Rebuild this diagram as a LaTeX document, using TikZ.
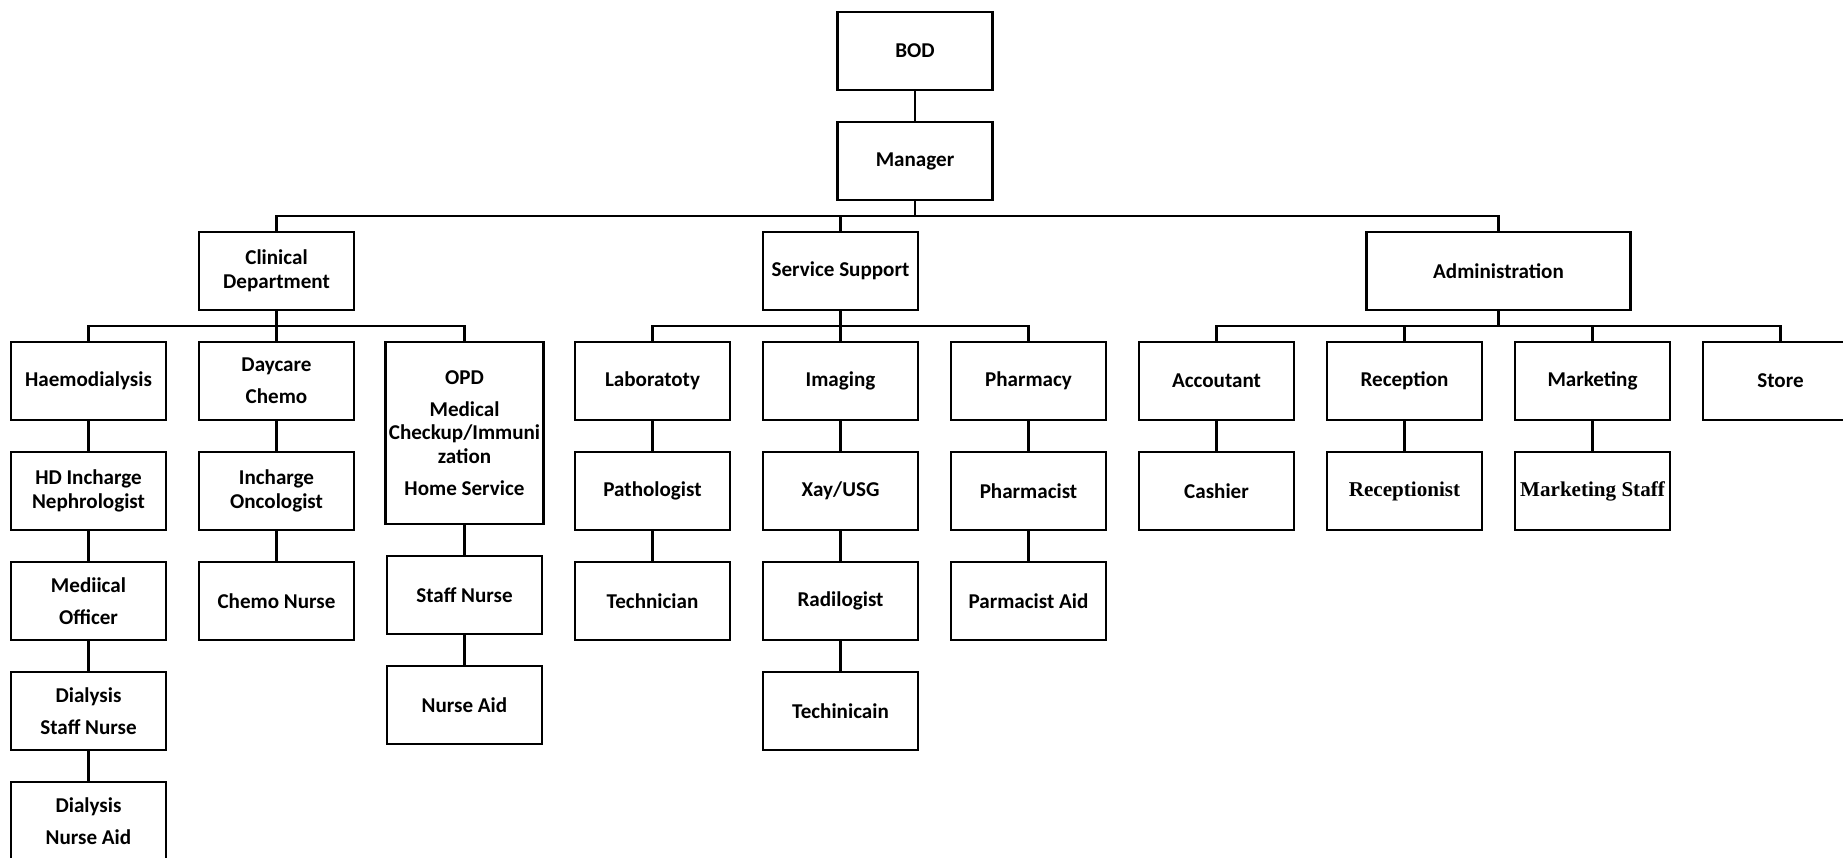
\documentclass[tikz,border=0pt]{standalone}
\usepackage{fontspec}
\setmainfont{Carlito}
\newfontfamily\tnr{Liberation Serif}
\usepackage{tikz}
\tikzset{
  bx/.style={draw,line width=1.6pt,minimum width=3.1cm,minimum height=1.56cm,inner sep=1pt,align=center,
    font={\fontsize{12}{13.5}\selectfont\bfseries}},
  ln/.style={line width=1.4pt}
}

\begin{document}
\begin{tikzpicture}
\useasboundingbox (0,0) rectangle (36.86,-17.14);
\clip (0,0) rectangle (36.86,-17.14);
\coordinate (bus1) at (0,-4.32);
\coordinate (bus2) at (0,-6.52);
\node[bx] (bod) at (18.30,-1.02) {BOD};
\node[bx] (mgr) at (18.30,-3.22) {Manager};
\node[bx] (clin) at (5.53,-5.42) {Clinical\\Department};
\node[bx] (svc) at (16.81,-5.42) {Service Support};
\node[bx,minimum width=5.28cm] (adm) at (29.97,-5.42) {Administration};
% clinical
\node[bx] (hd) at (1.77,-7.62) {Haemodialysis};
\node[bx] (hdin) at (1.77,-9.82) {HD Incharge\\Nephrologist};
\node[bx] (mo) at (1.77,-12.02) {Mediical\\[4.5pt]Officer};
\node[bx] (dsn) at (1.77,-14.22) {Dialysis\\[4.5pt]Staff Nurse};
\node[bx] (dna) at (1.77,-16.42) {Dialysis\\[4.5pt]Nurse Aid};
\node[bx] (dc) at (5.53,-7.62) {Daycare\\[4.5pt]Chemo};
\node[bx] (onc) at (5.53,-9.82) {Incharge\\Oncologist};
\node[bx] (cn) at (5.53,-12.02) {Chemo Nurse};
\node[bx,minimum width=3.16cm,minimum height=3.64cm] (opd) at (9.29,-8.66)
  {OPD\\[4.5pt]Medical\\Checkup/Immuni\\zation\\[4.5pt]Home Service};
\node[bx] (sn) at (9.29,-11.90) {Staff Nurse};
\node[bx] (na) at (9.29,-14.10) {Nurse Aid};
% service support
\node[bx] (lab) at (13.05,-7.62) {Laboratoty};
\node[bx] (path) at (13.05,-9.82) {Pathologist};
\node[bx] (tech) at (13.05,-12.02) {Technician};
\node[bx] (img) at (16.81,-7.62) {Imaging};
\node[bx] (xay) at (16.81,-9.82) {Xay/USG};
\node[bx] (rad) at (16.81,-12.02) {Radilogist};
\node[bx] (tech2) at (16.81,-14.22) {Techinicain};
\node[bx] (ph) at (20.57,-7.62) {Pharmacy};
\node[bx] (phm) at (20.57,-9.82) {Pharmacist};
\node[bx] (pha) at (20.57,-12.02) {Parmacist Aid};
% administration
\node[bx] (acc) at (24.33,-7.62) {Accoutant};
\node[bx] (cash) at (24.33,-9.82) {Cashier};
\node[bx] (rec) at (28.09,-7.62) {Reception};
\node[bx] (recp) at (28.09,-9.82) {\tnr Receptionist};
\node[bx] (mkt) at (31.85,-7.62) {Marketing};
\node[bx] (mks) at (31.85,-9.82) {\tnr Marketing Staff};
\node[bx] (st) at (35.61,-7.62) {Store};

\draw[ln] (bod) -- (mgr);
\foreach \c in {clin,svc,adm} \draw[ln] (mgr.south) -- (mgr.south |- bus1) -| (\c.north);
\foreach \c in {hd,dc,opd} \draw[ln] (clin.south) -- (clin.south |- bus2) -| (\c.north);
\foreach \c in {lab,img,ph} \draw[ln] (svc.south) -- (svc.south |- bus2) -| (\c.north);
\foreach \c in {acc,rec,mkt,st} \draw[ln] (adm.south) -- (adm.south |- bus2) -| (\c.north);
\draw[ln] (hd) -- (hdin) -- (mo) -- (dsn) -- (dna);
\draw[ln] (dc) -- (onc) -- (cn);
\draw[ln] (opd) -- (sn) -- (na);
\draw[ln] (lab) -- (path) -- (tech);
\draw[ln] (img) -- (xay) -- (rad) -- (tech2);
\draw[ln] (ph) -- (phm) -- (pha);
\draw[ln] (acc) -- (cash);
\draw[ln] (rec) -- (recp);
\draw[ln] (mkt) -- (mks);
\end{tikzpicture}
\end{document}
